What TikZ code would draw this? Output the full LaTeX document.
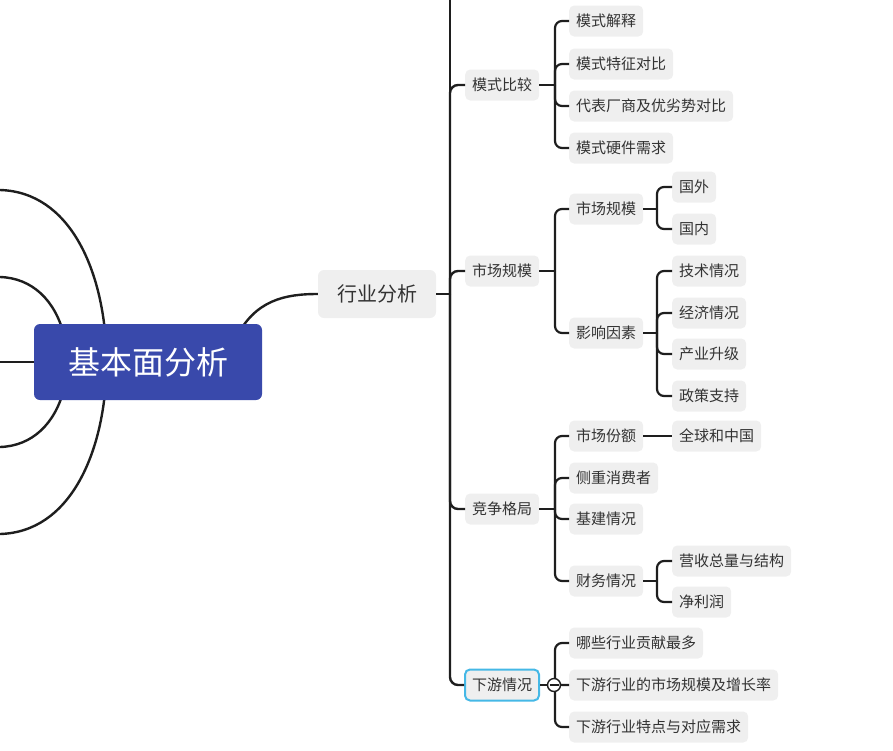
\documentclass[tikz,border=0pt]{standalone}
\usepackage{fontspec}
\setmainfont{Noto Sans CJK SC}
\definecolor{linec}{HTML}{1E1E1E}
\definecolor{nodeg}{HTML}{EFEFEF}
\definecolor{textc}{HTML}{333333}
\definecolor{rootc}{HTML}{3949AB}
\definecolor{selc}{HTML}{45B8E6}
\begin{document}
\begin{tikzpicture}[x=1pt,y=-1pt,
  conn/.style={line width=2.2pt, draw=linec, rounded corners=7pt},
  mainline/.style={line width=2.4pt, draw=linec, rounded corners=8pt},
  curv/.style={line width=2.4pt, draw=linec},
  leaf/.style={fill=nodeg, rounded corners=5pt, text=textc, font=\fontsize{15}{18}\selectfont, inner xsep=7pt, inner ysep=0pt, minimum height=31pt, anchor=west},
  sel/.style={draw=selc, line width=2pt},
  subt/.style={fill=nodeg, rounded corners=6pt, text=textc, font=\fontsize{20}{24}\selectfont, inner xsep=0pt, inner ysep=0pt, minimum width=118pt, minimum height=48pt},
  roott/.style={fill=rootc, rounded corners=6pt, text=white, font=\fontsize{32}{38}\selectfont, inner sep=0pt, minimum width=228pt, minimum height=76pt},
  collapse/.style={circle, draw=linec, line width=1.4pt, fill=white, minimum size=13pt, inner sep=0pt}
]
\useasboundingbox (0,0) rectangle (893,750);

% left curves (behind root)
\coordinate (lo1) at (0,190);
\coordinate (li1) at (0,277);
\coordinate (lm) at (0,362);
\coordinate (li2) at (0,447);
\coordinate (lo2) at (0,534);
\coordinate (rc) at (148,362);
\draw[curv] (lo1) .. controls (70,192) and (102,270) .. (106,345);
\draw[curv] (lo2) .. controls (70,532) and (102,454) .. (106,379);
\draw[curv] (li1) .. controls (32,278) and (55,300) .. (64,335);
\draw[curv] (li2) .. controls (32,446) and (55,424) .. (64,389);
\draw[curv] (lm) -- (rc);

\node[subt] (hy) at (377,294) {行业分析};
\draw[curv] (236,338) .. controls (255,300) and (285,294) .. (hy.west);
\node[roott] (root) at (148,362) {基本面分析};

% level 2
\node[leaf] (msbj) at (465,85) {模式比较};
\node[leaf] (scgm) at (465,271) {市场规模};
\node[leaf] (jzgj) at (465,509) {竞争格局};
\node[leaf,sel] (xyqk) at (464,685) {下游情况};

% level 3
\node[leaf] (a1) at (569,21) {模式解释};
\node[leaf] (a2) at (569,64) {模式特征对比};
\node[leaf] (a3) at (569,106) {代表厂商及优劣势对比};
\node[leaf] (a4) at (569,148) {模式硬件需求};
\node[leaf] (b1) at (569,209) {市场规模};
\node[leaf] (b2) at (569,333) {影响因素};
\node[leaf] (b11) at (672,187) {国外};
\node[leaf] (b12) at (672,229) {国内};
\node[leaf] (b21) at (672,271) {技术情况};
\node[leaf] (b22) at (672,313) {经济情况};
\node[leaf] (b23) at (672,354) {产业升级};
\node[leaf] (b24) at (672,396) {政策支持};
\node[leaf] (c1) at (569,436) {市场份额};
\node[leaf] (c11) at (672,436) {全球和中国};
\node[leaf] (c2) at (569,478) {侧重消费者};
\node[leaf] (c3) at (569,519) {基建情况};
\node[leaf] (c4) at (569,581) {财务情况};
\node[leaf] (c41) at (672,561) {营收总量与结构};
\node[leaf] (c42) at (672,602) {净利润};
\node[leaf] (d1) at (569,643) {哪些行业贡献最多};
\node[leaf] (d2) at (569,685) {下游行业的市场规模及增长率};
\node[leaf] (d3) at (569,727) {下游行业特点与对应需求};

% main vertical line
\coordinate (top) at (450,-5);
\coordinate (j0) at (450,294);
\draw[mainline] (hy.east) -- (j0);
\draw[mainline] (top) -- (j0);
\foreach \c in {msbj,scgm,jzgj,xyqk} \draw[mainline] (j0) |- (\c.west);

% brackets
\coordinate (ja) at (555,85);
\coordinate (jb) at (555,271);
\coordinate (jc) at (555,509);
\coordinate (jd) at (555,685);
\coordinate (jb1) at (657,209);
\coordinate (jb2) at (657,333);
\coordinate (jc4) at (657,581);

\draw[conn] (msbj.east) -- (ja);
\foreach \c in {a1,a2,a3,a4} \draw[conn] (ja) |- (\c.west);
\draw[conn] (scgm.east) -- (jb);
\foreach \c in {b1,b2} \draw[conn] (jb) |- (\c.west);
\draw[conn] (b1.east) -- (jb1);
\foreach \c in {b11,b12} \draw[conn] (jb1) |- (\c.west);
\draw[conn] (b2.east) -- (jb2);
\foreach \c in {b21,b22,b23,b24} \draw[conn] (jb2) |- (\c.west);
\draw[conn] (jzgj.east) -- (jc);
\foreach \c in {c1,c2,c3,c4} \draw[conn] (jc) |- (\c.west);
\draw[conn] (c1.east) -- (c11.west);
\draw[conn] (c4.east) -- (jc4);
\foreach \c in {c41,c42} \draw[conn] (jc4) |- (\c.west);
\draw[conn] (xyqk.east) -- (jd);
\foreach \c in {d1,d2,d3} \draw[conn] (jd) |- (\c.west);
\node[collapse] (col) at (554,685) {};
\draw[line width=1.3pt, draw=linec] ([xshift=-4.5pt]col.center) -- ([xshift=4.5pt]col.center);
\end{tikzpicture}
\end{document}
